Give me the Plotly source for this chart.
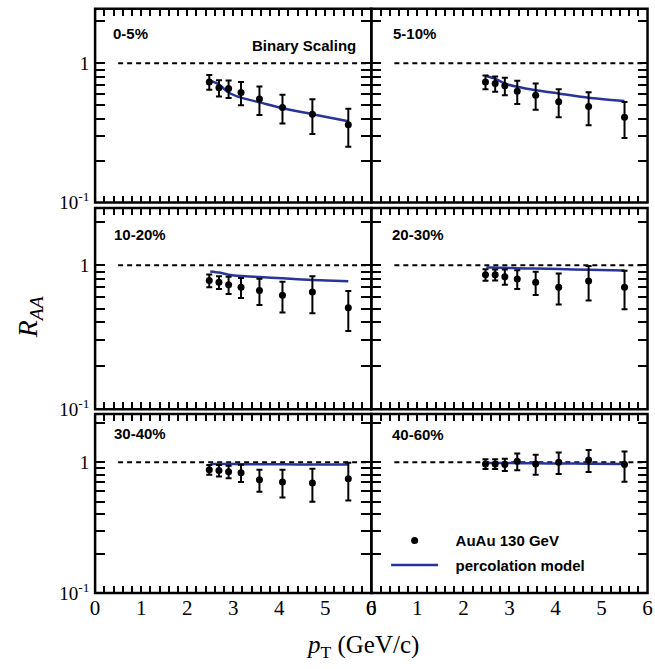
import plotly.graph_objects as go

# ---- data -------------------------------------------------------------
pt = [2.48, 2.69, 2.90, 3.17, 3.57, 4.07, 4.72, 5.50]          # GeV/c
pt_model = [2.50, 2.69, 2.90, 3.17, 3.57, 4.07, 4.72, 5.50]

centralities = ["0-5%", "5-10%", "10-20%", "20-30%", "30-40%", "40-60%"]

raa_0_5 = [0.734, 0.666, 0.658, 0.617, 0.553, 0.481, 0.431, 0.362]
err_0_5 = [0.089, 0.088, 0.094, 0.117, 0.128, 0.112, 0.120, 0.110]
mod_0_5 = [0.753, 0.703, 0.617, 0.566, 0.524, 0.475, 0.431, 0.383]

raa_5_10 = [0.734, 0.714, 0.688, 0.630, 0.590, 0.530, 0.489, 0.409]
err_5_10 = [0.083, 0.090, 0.100, 0.120, 0.126, 0.120, 0.130, 0.118]
mod_5_10 = [0.810, 0.774, 0.714, 0.677, 0.640, 0.607, 0.566, 0.536]

raa_10_20 = [0.782, 0.761, 0.731, 0.704, 0.668, 0.618, 0.651, 0.506]
err_10_20 = [0.080, 0.077, 0.100, 0.112, 0.138, 0.148, 0.187, 0.157]
mod_10_20 = [0.905, 0.890, 0.859, 0.841, 0.828, 0.811, 0.790, 0.773]

raa_20_30 = [0.859, 0.859, 0.832, 0.803, 0.761, 0.704, 0.778, 0.704]
err_20_30 = [0.078, 0.075, 0.100, 0.120, 0.140, 0.170, 0.210, 0.210]
mod_20_30 = [0.969, 0.962, 0.958, 0.952, 0.948, 0.940, 0.930, 0.919]

raa_30_40 = [0.876, 0.866, 0.846, 0.831, 0.736, 0.707, 0.695, 0.749]
err_30_40 = [0.075, 0.087, 0.092, 0.125, 0.140, 0.170, 0.196, 0.240]
mod_30_40 = [0.971, 0.969, 0.968, 0.967, 0.966, 0.964, 0.962, 0.960]

raa_40_60 = [0.971, 0.971, 0.960, 1.017, 0.971, 1.000, 1.041, 0.960]
err_40_60 = [0.083, 0.083, 0.103, 0.150, 0.170, 0.186, 0.200, 0.250]
mod_40_60 = [0.988, 0.987, 0.986, 0.984, 0.981, 0.978, 0.975, 0.971]

# binary-scaling reference line
unity_x = [0.5, 6.0]
unity_y = [1.0, 1.0]

# tick marks: every 0.2 in pT, every digit in R_AA; labels on the majors
x_tick_vals = [round(0.2 * k, 1) for k in range(31)]
x_tick_text = [str(int(v)) if v == int(v) else "" for v in x_tick_vals]
y_tick_vals = [0.1, 0.2, 0.3, 0.4, 0.5, 0.6, 0.7, 0.8, 0.9, 1, 2]
y_tick_text = ["10<sup>-1</sup> ", "", "", "", "", "", "", "", "", "1 ", ""]

raa_sets = [raa_0_5, raa_5_10, raa_10_20, raa_20_30, raa_30_40, raa_40_60]
err_sets = [err_0_5, err_5_10, err_10_20, err_20_30, err_30_40, err_40_60]
mod_sets = [mod_0_5, mod_5_10, mod_10_20, mod_20_30, mod_30_40, mod_40_60]

# ---- layout geometry (pixels) ---------------------------------------
W, H = 655, 669
col_px = [(91.5, 372.0), (372.0, 652.5)]
row_px = [(9.0, 206.0), (211.5, 416.0), (421.0, 603.0)]
row_logtop = [0.390, 0.397, 0.368]

BLUE = "#28349a"
SERIF = "Liberation Serif"
SANS = "Liberation Sans"
PAD = "\u00a0\u00a0\u00a0"


def px_x(p):
    return p / W


def px_y(p):
    return 1 - p / H


fig = go.Figure()
layout_axes = {}
shapes = []

for i, name in enumerate(centralities):
    r, c = divmod(i, 2)
    n = "" if i == 0 else str(i + 1)
    xa, ya = "x" + n, "y" + n

    # binary scaling
    fig.add_trace(go.Scatter(
        x=unity_x, y=unity_y, xaxis=xa, yaxis=ya, mode="lines",
        line=dict(color="black", width=2, dash="5px,4px"),
        showlegend=False, hoverinfo="skip"))

    # model curve
    fig.add_trace(go.Scatter(
        x=pt_model, y=mod_sets[i], xaxis=xa, yaxis=ya, mode="lines",
        line=dict(color=BLUE, width=2.5, shape="spline", smoothing=0.6),
        name=PAD + "percolation model", showlegend=(i == 5),
        legendgroup="model", legendrank=2))

    # data points
    fig.add_trace(go.Scatter(
        x=pt, y=raa_sets[i], xaxis=xa, yaxis=ya, mode="markers",
        marker=dict(color="black", size=7),
        error_y=dict(type="data", array=err_sets[i], color="black",
                     thickness=2, width=3),
        name=PAD + "AuAu 130 GeV", showlegend=(i == 5),
        legendgroup="data", legendrank=1))

    x0, x1 = col_px[c]
    y0, y1 = row_px[r]
    layout_axes["xaxis" + n] = dict(
        domain=[px_x(x0), px_x(x1)], anchor=ya, range=[0, 6],
        showline=False, mirror="ticks",
        ticks="inside", ticklen=7, tickwidth=2, tickcolor="black",
        tickmode="array", tickvals=x_tick_vals, ticktext=x_tick_text,
        showgrid=False, zeroline=False,
        showticklabels=(r == 2),
        tickfont=dict(family=SERIF, size=21, color="black"),
    )
    layout_axes["yaxis" + n] = dict(
        domain=[px_y(y1), px_y(y0)], anchor=xa, type="log",
        range=[-1, row_logtop[r]],
        showline=False, mirror="ticks",
        ticks="inside", ticklen=10, tickwidth=2, tickcolor="black",
        tickmode="array", tickvals=y_tick_vals, ticktext=y_tick_text,
        showgrid=False, zeroline=False,
        showticklabels=(c == 0),
        tickfont=dict(family=SERIF, size=19, color="black"),
    )
    # panel frame
    shapes.append(dict(
        type="rect", xref=xa + " domain", yref=ya + " domain",
        x0=0, x1=1, y0=0, y1=1, layer="above",
        line=dict(color="black", width=2.5), fillcolor="rgba(0,0,0,0)"))

# panel labels
label_px = [(108, 33), (392, 33), (109, 237), (391, 237), (109, 440), (391, 441)]
annotations = []
for name, (lx, ly) in zip(centralities, label_px):
    annotations.append(dict(
        x=px_x(lx), y=px_y(ly + 1), xref="paper", yref="paper",
        text=name, showarrow=False, xanchor="left", yanchor="middle",
        font=dict(family=SANS, size=15, color="black", weight="bold")))

annotations.append(dict(
    x=px_x(358), y=px_y(46.5), xref="paper", yref="paper",
    text="Binary Scaling", showarrow=False, xanchor="right", yanchor="middle",
    font=dict(family=SANS, size=15, color="black", weight="bold")))

# axis titles
annotations.append(dict(
    x=px_x(363), y=px_y(657), xref="paper", yref="paper",
    text="<i>p</i><sub>T</sub> (GeV/c)", showarrow=False,
    xanchor="center", yanchor="middle",
    font=dict(family=SERIF, size=25, color="black")))
annotations.append(dict(
    x=px_x(25), y=px_y(322), xref="paper", yref="paper",
    text="<i>R</i><sub><i>AA</i></sub>", showarrow=False, textangle=-90,
    xanchor="center", yanchor="middle",
    font=dict(family=SERIF, size=28, color="black")))

fig.update_layout(
    width=W, height=H,
    margin=dict(l=0, r=0, t=0, b=0),
    paper_bgcolor="white", plot_bgcolor="white",
    annotations=annotations, shapes=shapes,
    showlegend=True,
    legend=dict(
        x=px_x(387), y=px_y(533), xanchor="left", yanchor="top",
        bgcolor="rgba(0,0,0,0)", borderwidth=0,
        traceorder="grouped", tracegroupgap=2, itemwidth=47,
        font=dict(family=SANS, size=15, color="black", weight="bold")),
    **layout_axes,
)

fig.write_html("out.html")
